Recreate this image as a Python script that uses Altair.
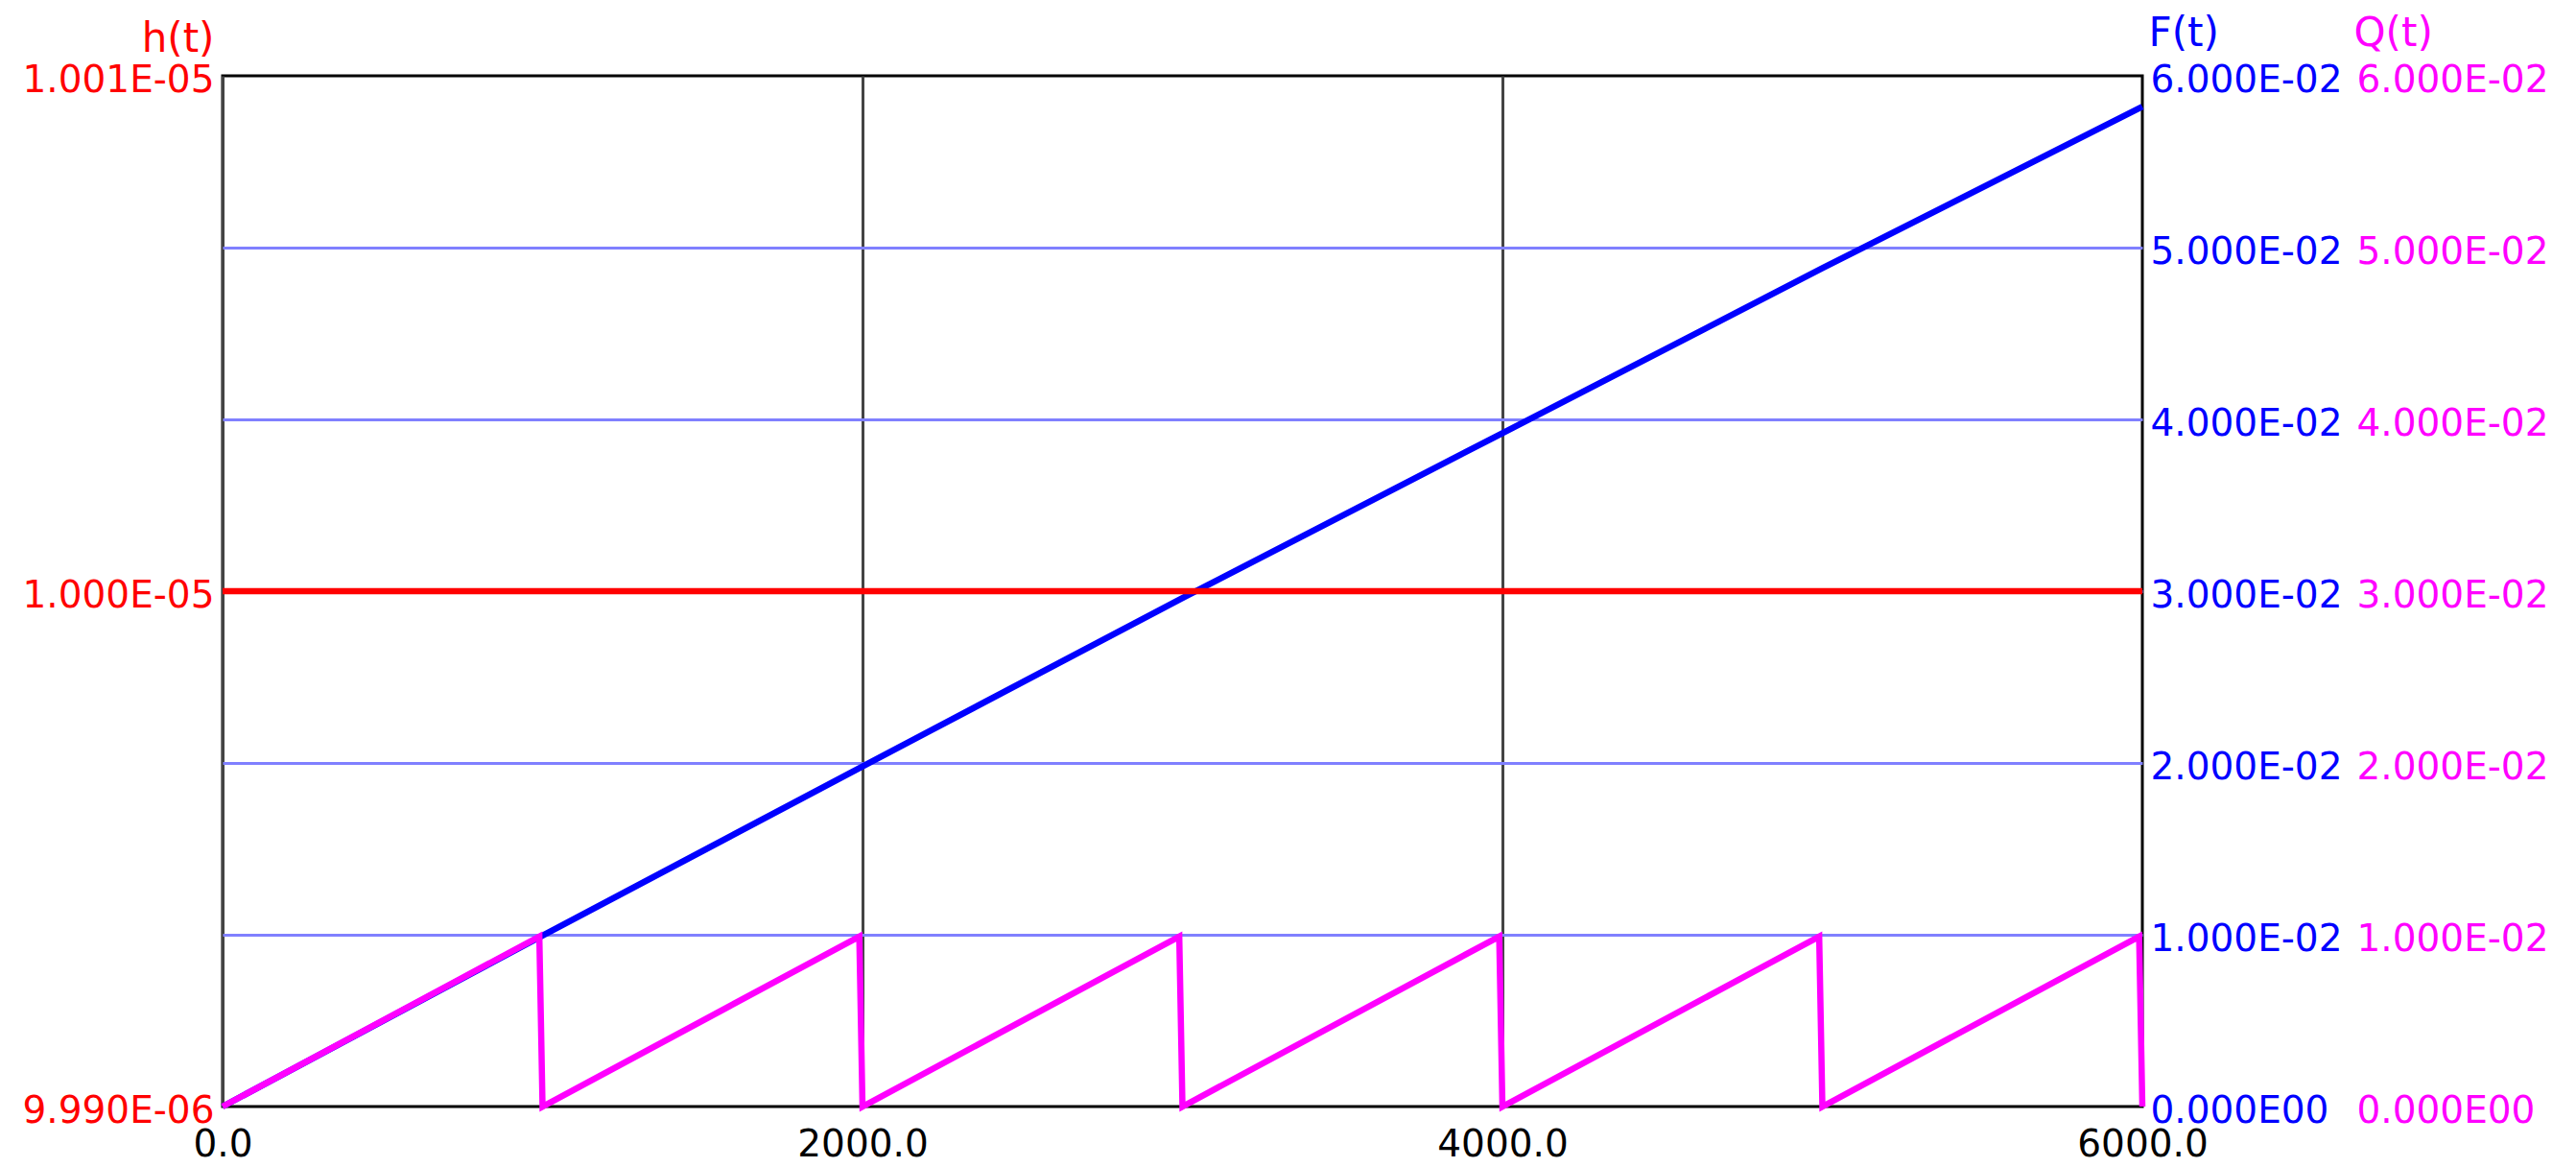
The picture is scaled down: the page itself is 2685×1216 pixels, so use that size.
import altair as alt
import pandas as pd

# ---- data ----
t_h = [0, 6000]
h_vals = [1.0e-05, 1.0e-05]

t_F = [0, 1000, 2000, 3000, 4000, 5000, 6000]
F_vals = [0.0, 0.00995, 0.0198, 0.0296, 0.0392, 0.0488, 0.0582]

t_Q = [0, 990, 1000, 1990, 2000, 2990, 3000, 3990, 4000, 4990, 5000, 5990, 6000]
Q_vals = [0.0, 0.0099, 0.0, 0.0099, 0.0, 0.0099, 0.0, 0.0099, 0.0, 0.0099, 0.0, 0.0099, 0.0]

x_ticks = [0, 2000, 4000, 6000]
h_ticks = [9.99e-06, 1.0e-05, 1.001e-05]
FQ_ticks = [0.0, 0.01, 0.02, 0.03, 0.04, 0.05, 0.06]

df_h = pd.DataFrame({"t": t_h, "h": h_vals})
df_F = pd.DataFrame({"t": t_F, "F": F_vals})
df_Q = pd.DataFrame({"t": t_Q, "Q": Q_vals})

FONT = "DejaVu Sans"
LBL = 39
TTL = 42
LW = 6.5
RED = "#ff0000"
BLUE = "#0000ff"
MAG = "#ff00ff"

E = "floor(log(abs(datum.value)) / LN10 + 1e-9)"
sci = ("datum.value == 0 ? '0.000E00' : "
       f"format(datum.value / pow(10, {E}), '.3f') + 'E' + "
       f"({E} < 0 ? '-' : '') + (abs({E}) < 10 ? '0' : '') + abs({E})")

x_enc = alt.X(
    "t:Q",
    scale=alt.Scale(domain=[0, 6000], nice=False),
    axis=alt.Axis(
        values=x_ticks, format=".1f", title=None, grid=True,
        gridColor="#444444", gridWidth=3,
        gridOpacity={"condition": {"test": "datum.value >= 5999", "value": 0}, "value": 1},
        ticks=False, tickSize=0,
        domain=False, labelPadding=20, labelFlush=False, labelOverlap=False,
        labelLimit=0, labelBound=False,
        labelColor="#000000", labelFontSize=LBL, labelFont=FONT,
    ),
)

h_layer = alt.Chart(df_h).mark_line(color=RED, strokeWidth=LW).encode(
    x=x_enc,
    y=alt.Y(
        "h:Q",
        scale=alt.Scale(domain=[9.99e-06, 1.001e-05], nice=False, zero=False),
        axis=alt.Axis(
            orient="left", values=h_ticks, labelExpr=sci, grid=False,
            ticks=False, tickSize=0, domain=False, labelPadding=9,
            labelOffset=4, labelColor=RED, labelFontSize=LBL, labelFont=FONT,
            labelOverlap=False, labelFlush=False, labelLimit=0, labelBound=False,
            title="h(t)", titleAngle=0, titleAlign="right",
            titleBaseline="alphabetic", titleX=-9, titleY=-26,
            titleColor=RED, titleFontSize=TTL, titleFont=FONT,
            titleFontWeight="normal",
        ),
    ),
)

F_layer = alt.Chart(df_F).mark_line(color=BLUE, strokeWidth=LW).encode(
    x=x_enc,
    y=alt.Y(
        "F:Q",
        scale=alt.Scale(domain=[0, 0.06], nice=False),
        axis=alt.Axis(
            orient="right", values=FQ_ticks, labelExpr=sci, grid=True,
            gridColor="#8080ff", gridWidth=3,
            gridOpacity={"condition": {"test": "datum.value <= 0.0001 || datum.value >= 0.0599", "value": 0}, "value": 1},
            ticks=False, tickSize=0, domain=False, labelPadding=8,
            labelOffset=4, labelColor=BLUE, labelFontSize=LBL, labelFont=FONT,
            labelOverlap=False, labelFlush=False, labelAlign="left",
            labelLimit=0, labelBound=False,
            title="F(t)", titleAngle=0, titleAlign="left",
            titleBaseline="alphabetic", titleX=6, titleY=-32,
            titleColor=BLUE, titleFontSize=TTL, titleFont=FONT,
            titleFontWeight="normal",
        ),
    ),
)

Q_layer = alt.Chart(df_Q).mark_line(color=MAG, strokeWidth=LW).encode(
    x=x_enc,
    y=alt.Y(
        "Q:Q",
        scale=alt.Scale(domain=[0, 0.06], nice=False),
        axis=alt.Axis(
            orient="right", offset=215, values=FQ_ticks, labelExpr=sci,
            grid=False, ticks=False, tickSize=0, domain=False, labelPadding=8,
            labelOffset=4, labelColor=MAG, labelFontSize=LBL, labelFont=FONT,
            labelOverlap=False, labelFlush=False, labelAlign="left",
            labelLimit=0, labelBound=False,
            title="Q(t)", titleAngle=0, titleAlign="left",
            titleBaseline="alphabetic", titleX=5, titleY=-32,
            titleColor=MAG, titleFontSize=TTL, titleFont=FONT,
            titleFontWeight="normal",
        ),
    ),
)

chart = (
    alt.layer(F_layer, h_layer, Q_layer)
    .resolve_scale(y="independent")
    .properties(
        width=2001,
        height=1074,
        autosize=alt.AutoSizeParams(type="none"),
        padding={"left": 224, "top": 71, "right": 444, "bottom": 55},
        background="white",
    )
    .configure_view(stroke="#000000", strokeWidth=3)
)

chart.save("out.html", embed_options={"renderer": "svg", "actions": False})
